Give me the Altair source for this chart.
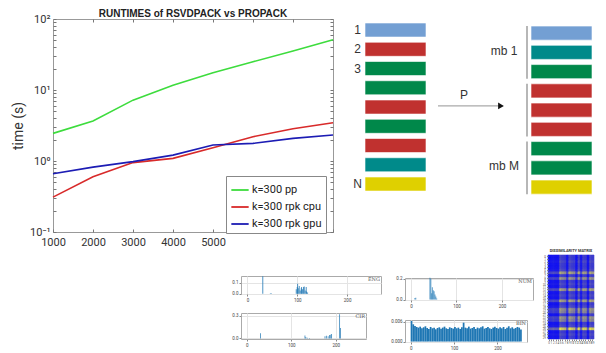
import altair as alt
import pandas as pd

# ---------------- main runtime chart ----------------
sizes = [1000, 2000, 3000, 4000, 5000, 6000, 7000, 8000]
pp = [2.45, 3.65, 7.2, 11.7, 17.5, 25.0, 35.5, 51.0]
rpk_cpu = [0.31, 0.60, 0.95, 1.09, 1.54, 2.2, 2.85, 3.45]
rpk_gpu = [0.66, 0.82, 0.98, 1.21, 1.68, 1.77, 2.08, 2.32]
series_names = ["k=300 pp", "k=300 rpk cpu", "k=300 rpk gpu"]
series_colors = ["#3ddc3d", "#d82a2a", "#1c1cb4"]
y_tick_values = [0.1, 0.2, 0.3, 0.4, 0.5, 0.6, 0.7, 0.8, 0.9,
                 1, 2, 3, 4, 5, 6, 7, 8, 9,
                 10, 20, 30, 40, 50, 60, 70, 80, 90, 100]
main_title = "RUNTIMES of RSVDPACK vs PROPACK"
y_title = "time (s)"

# ---------------- block diagram ----------------
palette = {"lightblue": "#739fd3", "red": "#c0312f", "green": "#00884a",
           "teal": "#008a8a", "yellow": "#dfd000"}
left_blocks = ["lightblue", "red", "green", "green", "red", "green", "red", "teal", "yellow"]
left_labels = ["1", "2", "3", "", "", "", "", "", "N"]
right_blocks = ["lightblue", "teal", "green", "red", "red", "red", "green", "green", "yellow"]
group_labels = ["mb 1", "", "mb M"]
arrow_label = "P"

# ---------------- histograms ----------------
eng_bins = [30, 45, 47, 97, 99, 100, 101, 103, 105, 107, 108, 110, 112, 113, 115, 117, 118, 120]
eng_vals = [0.16, 0.004, 0.003, 0.04, 0.06, 0.09, 0.05, 0.07, 0.03, 0.05, 0.06, 0.04, 0.06, 0.065, 0.03, 0.06, 0.02, 0.01]
cir_bins = [30, 130, 132, 135, 140, 175, 178, 182, 185, 188, 190, 208, 210]
cir_vals = [0.07, 0.04, 0.02, 0.01, 0.005, 0.03, 0.035, 0.03, 0.045, 0.05, 0.06, 0.32, 0.14]
num_bins = [8, 10, 41, 43, 45, 46, 48, 50, 52, 54, 56]
num_vals = [0.015, 0.018, 0.21, 0.2, 0.06, 0.12, 0.09, 0.08, 0.05, 0.03, 0.01]
bin_vals = [0.0062, 0.0052, 0.0047, 0.0044, 0.0042, 0.0045, 0.0040, 0.0043, 0.0046, 0.0041,
            0.0038, 0.0044, 0.0040, 0.0042, 0.0037, 0.0041, 0.0043, 0.0039, 0.0042, 0.0045,
            0.0040, 0.0038, 0.0043, 0.0041, 0.0039, 0.0044, 0.0040, 0.0042, 0.0038, 0.0043,
            0.0057, 0.0042, 0.0040, 0.0045, 0.0039, 0.0041, 0.0044, 0.0038, 0.0042, 0.0040,
            0.0043, 0.0046, 0.0039, 0.0041, 0.0044, 0.0040, 0.0038, 0.0042, 0.0045, 0.0041,
            0.0039, 0.0043, 0.0040, 0.0044, 0.0038, 0.0042, 0.0046, 0.0040, 0.0043, 0.0039,
            0.0041, 0.0044, 0.0042, 0.0036]
hist_x_ticks = [0, 50, 100, 150, 200, 250]

# ---------------- dissimilarity matrix ----------------
matrix_title = "DISSIMILARITY MATRIX"
matrix_row_weights = [0.4, 0.4, 0.45, 0.4, 0.4, 0.45, 0.8, 0.4, 0.75, 0.4,
                      0.45, 0.4, 0.8, 0.4, 0.45, 0.4, 0.8, 0.4, 0.45, 0.75,
                      0.7, 0.4, 0.75, 0.7, 0.4, 0.45, 1.0, 0.4, 0.45, 0.4]
matrix_col_weights = [0.5, 0.5, 0.55, 0.5, 0.5, 1.0, 0.9, 0.85, 0.5, 1.0,
                      0.9, 0.85, 0.5, 1.0, 0.55, 0.95, 0.9, 0.5, 1.0, 0.9]

FONT = "Roboto"

# ======== main chart ========
rows = []
for name, vals in zip(series_names, [pp, rpk_cpu, rpk_gpu]):
    for n, t in zip(sizes, vals):
        rows.append({"n": n, "t": t, "s": name})
main_df = pd.DataFrame(rows)

xscale = alt.Scale(domain=[sizes[0], sizes[-1]], nice=False)
yscale = alt.Scale(type="log", domain=[0.1, 100], nice=False)
decade_expr = ("datum.value == 0.1 ? '10⁻¹' : datum.value == 1 ? '10⁰' : "
               "datum.value == 10 ? '10¹' : datum.value == 100 ? '10²' : ''")

lines = alt.Chart(main_df).mark_line(strokeWidth=1.6).encode(
    x=alt.X("n:Q", scale=xscale,
            axis=alt.Axis(orient="bottom", values=sizes, format="d",
                          labelExpr="datum.value <= 5000 ? datum.label : ''",
                          title=None, offset=-3, tickSize=3, domain=False, grid=False,
                          labelPadding=4, labelFontSize=11, labelColor="#333",
                          tickColor="#777", labelOverlap=False, labelFlush=False)),
    y=alt.Y("t:Q", scale=yscale,
            axis=alt.Axis(orient="left", values=y_tick_values, labelExpr=decade_expr,
                          title=y_title, titleFontSize=14, titleFontWeight="normal",
                          titleColor="#333", titlePadding=4, offset=-3, tickSize=3,
                          domain=False, grid=False, labelPadding=3, labelFontSize=11,
                          labelColor="#333", tickColor="#777", labelOverlap=False,
                          labelFlush=False)),
    color=alt.Color("s:N", scale=alt.Scale(domain=series_names, range=series_colors),
                    legend=alt.Legend(orient="none", legendX=173, legendY=157, title=None,
                                      symbolType="stroke", symbolStrokeWidth=1.8,
                                      symbolSize=300, labelFontSize=11, labelColor="#222",
                                      labelFont=FONT, strokeColor="#888", fillColor="white",
                                      padding=4, rowPadding=2, labelOffset=2)),
)
mirror = alt.Chart(main_df).mark_point(opacity=0).encode(
    x=alt.X("n:Q", scale=xscale,
            axis=alt.Axis(orient="top", values=sizes[1:-1], labels=False, title=None,
                          offset=-3, tickSize=3, domain=False, grid=False, tickColor="#777")),
    y=alt.Y("t:Q", scale=yscale,
            axis=alt.Axis(orient="right", values=y_tick_values, labels=False, title=None,
                          offset=-3, tickSize=3, domain=False, grid=False, tickColor="#777")),
)
main = alt.layer(lines, mirror).resolve_axis(x="independent", y="independent").properties(
    width=280, height=213,
    title=alt.TitleParams(main_title, font="Liberation Sans", fontSize=10,
                          fontWeight="bold", color="#222", offset=-6, anchor="middle"),
)

# ======== diagram ========
STEP_H = 0.73
brows = []
for i, c in enumerate(left_blocks):
    brows.append({"x0": 24, "x1": 85, "y0": i, "y1": i + STEP_H, "c": palette[c]})
for i, c in enumerate(right_blocks):
    brows.append({"x0": 190, "x1": 251, "y0": i + 0.16, "y1": i + 0.16 + STEP_H, "c": palette[c]})
blocks_df = pd.DataFrame(brows)

dx = alt.Scale(domain=[0, 255], nice=False)
dy = alt.Scale(domain=[-0.208, 10.857], nice=False, reverse=True)

blocks = alt.Chart(blocks_df).mark_rect(stroke="white", strokeWidth=0.6).encode(
    x=alt.X("x0:Q", scale=dx, axis=None), x2="x1:Q",
    y=alt.Y("y0:Q", scale=dy, axis=None), y2="y1:Q",
    color=alt.Color("c:N", scale=None),
)
lab_df = pd.DataFrame([{"x": 16.5, "y": i + STEP_H / 2, "t": t}
                       for i, t in enumerate(left_labels) if t])
num_labels = alt.Chart(lab_df).mark_text(fontSize=12, font="Liberation Sans", color="#333",
                                         align="center", baseline="middle").encode(
    x=alt.X("x:Q", scale=dx, axis=None), y=alt.Y("y:Q", scale=dy, axis=None), text="t:N")

grp_df = pd.DataFrame([{"x": 186, "y0": 3 * g + 0.16, "y1": 3 * g + 2.89, "t": t,
                        "ty": 3 * g + 1.45}
                       for g, t in enumerate(group_labels)])
grp_rules = alt.Chart(grp_df).mark_rule(color="#999", strokeWidth=1.4).encode(
    x=alt.X("x:Q", scale=dx, axis=None),
    y=alt.Y("y0:Q", scale=dy, axis=None), y2="y1:Q")
grp_text = alt.Chart(grp_df[grp_df.t != ""]).mark_text(
    fontSize=12, font="Liberation Sans", color="#333", align="center", baseline="middle").encode(
    x=alt.X("x:Q", scale=dx, axis=None), y=alt.Y("ty:Q", scale=dy, axis=None), text="t:N",
    xOffset=alt.value(-23))

arrow_df = pd.DataFrame([{"x0": 97, "x1": 160, "y": 4.31, "t": arrow_label, "tx": 123, "ty": 3.74}])
arrow_line = alt.Chart(arrow_df).mark_rule(color="#aaa", strokeWidth=1.2).encode(
    x=alt.X("x0:Q", scale=dx, axis=None), x2="x1:Q",
    y=alt.Y("y:Q", scale=dy, axis=None))
arrow_head = alt.Chart(arrow_df).mark_point(shape="triangle-right", filled=True, color="#111",
                                            size=45, opacity=1).encode(
    x=alt.X("x1:Q", scale=dx, axis=None), y=alt.Y("y:Q", scale=dy, axis=None))
arrow_text = alt.Chart(arrow_df).mark_text(fontSize=12, font="Liberation Sans", color="#333").encode(
    x=alt.X("tx:Q", scale=dx, axis=None), y=alt.Y("ty:Q", scale=dy, axis=None), text="t:N")

diagram = alt.layer(blocks, num_labels, grp_rules, grp_text, arrow_line, arrow_head,
                    arrow_text).properties(width=255, height=213,
                                           view=alt.ViewBackground(stroke=None))


# ======== histogram panels ========
def hist_panel(label, xs, ys, ymax, yticks, yfmt, w, h, bar_w=1.6):
    df = pd.DataFrame({"x0": xs, "v": ys})
    df["x1"] = df["x0"] + bar_w
    hx = alt.Scale(domain=[-13, 268], nice=False)
    hy = alt.Scale(domain=[0 - ymax * 0.02, ymax], nice=False)
    bars = alt.Chart(df).mark_rect(color="#1f77b4").encode(
        x=alt.X("x0:Q", scale=hx,
                axis=alt.Axis(values=hist_x_ticks, title=None, labelFontSize=4.5, tickSize=2,
                              labelPadding=1, domain=False, gridColor="#e4e4e4",
                              labelColor="#444", tickColor="#888", labelFlush=False)),
        x2="x1:Q",
        y=alt.Y("v:Q", scale=hy,
                axis=alt.Axis(values=yticks, format=yfmt, title=None, labelFontSize=4.5,
                              tickSize=2, labelPadding=1, domain=False, gridColor="#e4e4e4",
                              labelColor="#444", tickColor="#888", labelFlush=False)),
        y2=alt.datum(0),
    )
    tag = alt.Chart(pd.DataFrame({"t": [label]})).mark_text(
        fontSize=5, font="DejaVu Serif", color="#555", align="right", baseline="top",
        dx=-1, dy=1).encode(x=alt.datum(268), y=alt.datum(ymax), text="t:N")
    return alt.layer(bars, tag).properties(width=w, height=h,
                                           view=alt.ViewBackground(stroke="#aaa"))


eng = hist_panel("ENG", eng_bins, eng_vals, 0.162, [0.0, 0.1], ".1f", 140, 18)
cir = hist_panel("CIR", cir_bins, cir_vals, 0.337, [0.0, 0.1, 0.2, 0.3], ".1f", 125, 26)
num = hist_panel("NUM", num_bins, num_vals, 0.208, [0.0, 0.1, 0.2], ".1f", 128, 22)
binp = hist_panel("BIN", [4 * i for i in range(len(bin_vals))], bin_vals, 0.0065,
                  [0.0, 0.002, 0.004, 0.006], ".3f", 122, 22, bar_w=4)


def spacer(w, h):
    return alt.Chart(pd.DataFrame({"v": [0]})).mark_text(text="").encode(
        x=alt.value(0), y=alt.value(0)).properties(width=w, height=h,
                                                   view=alt.ViewBackground(stroke=None))


col1 = alt.vconcat(spacer(10, 10), eng, cir, spacing=10)
col2 = alt.vconcat(spacer(10, 10), num, binp, spacing=10)

# ======== matrix ========
mrows = []
for r, rw in enumerate(matrix_row_weights):
    for c, cw in enumerate(matrix_col_weights):
        mrows.append({"r": r, "c": c, "v": rw * cw})
mat_df = pd.DataFrame(mrows)
mat_scale = alt.Scale(domain=[0.2, 1.0], range=["#1414f0", "#e6e048"],
                      interpolate="rgb", clamp=True)
matrix = alt.Chart(mat_df).mark_rect(strokeWidth=0.6).encode(
    x=alt.X("c:O", axis=alt.Axis(title=None, labelFontSize=3, tickSize=1.5, labelPadding=1,
                                 domain=False, labelAngle=0, labelColor="#555", tickColor="#888")),
    y=alt.Y("r:O", axis=alt.Axis(title=None, labelFontSize=3, tickSize=1.5, labelPadding=1,
                                 domain=False, labelColor="#555", tickColor="#888")),
    color=alt.Color("v:Q", scale=mat_scale, legend=None),
    stroke=alt.Stroke("v:Q", scale=mat_scale, legend=None),
).properties(width=46, height=84, view=alt.ViewBackground(stroke=None, fill="#1414f0"),
             title=alt.TitleParams(matrix_title, fontSize=3.9, fontWeight="bold",
                                   color="#333", offset=2))

top_row = alt.hconcat(main, diagram, spacing=8, bounds="flush")
bottom_row = alt.hconcat(spacer(170, 10), col1, col2, matrix, spacing=8)

chart = alt.vconcat(top_row, bottom_row, spacing=0).properties(
    padding={"left": 3, "top": 0, "right": 0, "bottom": 0}
).configure(font=FONT).configure_view(stroke="#999")

chart.save("out.html", embed_options={"renderer": "svg", "actions": False})
